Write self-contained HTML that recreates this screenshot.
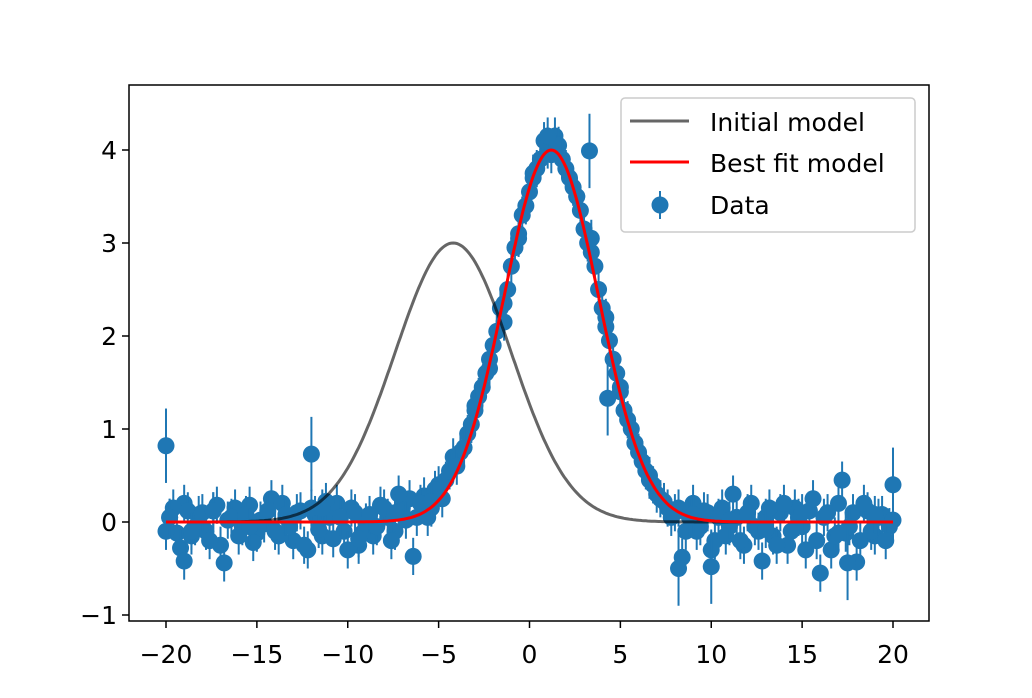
<!DOCTYPE html>
<html><head><meta charset="utf-8"><style>
body{margin:0;background:#fff;}
svg{display:block;font-family:"DejaVu Sans","Liberation Sans",sans-serif;}
</style></head><body>
<svg id="chart" width="1032" height="698">
<rect width="1032" height="698" fill="#fff"/>
<g id="plot"></g>
</svg>
<script>
const xTicks=[-20,-15,-10,-5,0,5,10,15,20];
const yTicks=[-1,0,1,2,3,4];
const dataX=[-20.0,-19.6,-19.2,-18.8,-18.4,-18.0,-17.6,-17.2,-16.8,-16.4,-16.0,-15.6,-15.2,-14.8,-14.4,-14.0,-13.6,-13.2,-12.8,-12.4,-12.0,-11.6,-11.2,-10.8,-10.4,-10.0,-9.6,-9.2,-8.8,-8.4,-8.0,-7.6,-7.2,-6.8,-6.4,-6.0,-5.6,-5.2,-4.8,-4.4,-4.0,-3.6,-3.2,-2.8,-2.4,-2.0,-1.6,-1.2,-0.8,-0.4,0.0,0.4,0.8,1.2,1.6,2.0,2.4,2.8,3.2,3.6,4.0,4.4,4.8,5.2,5.6,6.0,6.4,6.8,7.2,7.6,8.0,8.4,8.8,9.2,9.6,10.0,10.4,10.8,11.2,11.6,12.0,12.4,12.8,13.2,13.6,14.0,14.4,14.8,15.2,15.6,16.0,16.4,16.8,17.2,17.6,18.0,18.4,18.8,19.2,19.6,20.0,
-20,-12,3.3,4.3,8.2,10,17.5,20,-19,-19.8,-18.6,-17.4,-15.4,-13.4,-11.4,-9.4,-7.4,-5.4,-3.0,-2.2,-1.4,-0.6,0.2,1.0,1.8,2.6,3.4,4.2,5.0,5.8,6.6,9.0,11.0,13.0,15.0,17.0,19.0];
const dataY=[-0.10,0.15,-0.28,0.12,-0.05,0.10,-0.20,0.18,-0.44,0.05,-0.15,0.08,-0.22,0.02,0.12,-0.10,0.20,-0.05,0.10,-0.25,0.15,-0.08,0.22,-0.18,0.05,-0.30,0.10,-0.12,0.08,-0.05,0.15,-0.20,0.30,0.02,-0.37,0.20,0.05,0.35,0.25,0.55,0.60,0.80,1.05,1.35,1.60,1.90,2.30,2.50,2.95,3.30,3.55,3.80,4.10,3.95,4.05,3.80,3.60,3.35,3.00,2.75,2.30,1.95,1.60,1.20,1.00,0.75,0.55,0.40,0.25,0.15,0.10,-0.38,0.05,-0.10,0.12,-0.30,0.05,-0.15,0.30,-0.20,0.10,-0.05,-0.42,0.15,-0.25,0.20,-0.10,0.05,-0.30,0.25,-0.55,0.10,-0.15,0.45,-0.05,-0.43,0.20,-0.10,0.05,-0.20,0.02,
0.82,0.73,3.99,1.33,-0.50,-0.48,-0.44,0.40,-0.42,0.05,-0.10,0.12,-0.05,0.08,0.15,-0.18,0.10,0.22,1.25,1.65,2.15,3.05,3.75,4.15,3.90,3.50,3.05,2.20,1.45,0.85,0.50,0.08,0.02,-0.08,0.10,-0.12,0.08];
const extraX=[-19.8,-19.4,-19.0,-18.6,-18.2,-17.8,-17.4,-17.0,-16.6,-16.2,-15.8,-15.4,-15.0,-14.6,-14.2,-13.8,-13.4,-13.0,-12.6,-12.2,-11.8,-11.4,-11.0,-10.6,-10.2,-9.8,-9.4,-9.0,-8.6,-8.2,-7.8,-7.4,-7.0,-6.6,-6.2,-5.8,-5.4,-5.0,-4.6,-4.2,-3.8,-3.4,-3.0,-2.6,-2.2,-1.8,-1.4,-1.0,-0.6,-0.2,0.2,0.6,1.0,1.4,1.8,2.2,2.6,3.0,3.4,3.8,4.2,4.6,5.0,5.4,5.8,6.2,6.6,7.0,7.4,7.8,8.2,8.6,9.0,9.4,9.8,10.2,10.6,11.0,11.4,11.8,12.2,12.6,13.0,13.4,13.8,14.2,14.6,15.0,15.4,15.8,16.2,16.6,17.0,17.4,17.8,18.2,18.6,19.0,19.4,19.8];
const extraY=[0.05,-0.12,0.20,-0.15,0.08,-0.10,0.12,-0.25,0.02,0.15,-0.05,0.18,-0.12,-0.02,0.25,-0.15,0.05,-0.20,0.12,-0.30,0.08,-0.15,0.05,0.20,-0.10,0.15,-0.25,0.00,-0.15,0.18,0.05,-0.10,0.15,0.25,0.05,0.28,0.15,0.40,0.45,0.70,0.75,0.95,1.20,1.45,1.75,2.05,2.35,2.75,3.10,3.40,3.70,3.90,4.00,4.15,3.90,3.70,3.50,3.15,2.90,2.50,2.10,1.75,1.40,1.10,0.85,0.65,0.45,0.30,0.22,0.05,0.15,-0.10,0.20,-0.05,0.10,-0.20,0.15,-0.05,0.05,-0.25,0.20,-0.10,0.05,-0.15,0.10,-0.25,0.15,-0.05,0.12,-0.20,0.05,-0.30,0.20,-0.12,0.10,-0.20,0.12,-0.15,0.08,-0.05];
const initAmp=3, initMean=-4.2, initSigma=3.2;
const fitAmp=4, fitMean=1.2, fitSigma=2.6;

const L=129,R=929,T=85,B=621;
const X=v=>529.5+v*18.175;
const Y=v=>522-v*93;
const NS="http://www.w3.org/2000/svg";
const g=document.getElementById('plot');
function mk(t,a,p){const e=document.createElementNS(NS,t);for(const k in a)e.setAttribute(k,a[k]);(p||g).appendChild(e);return e;}

function drawPoint(x,y,er){
 const ln=mk('line',{x1:X(x),x2:X(x),y1:Y(y-er),y2:Y(y+er),stroke:'#1f77b4','stroke-width':2});
 
 
 const c=mk('circle',{cx:X(x),cy:Y(y),r:8.5,fill:'#1f77b4'});
 
 
}
extraX.forEach((x,i)=>drawPoint(x,extraY[i],0.2));
dataX.forEach((x,i)=>drawPoint(x,dataY[i],i>=101&&i<109?0.4:0.2));

function curve(a,m,s){let d='';for(let x=-20;x<=20.001;x+=0.1){d+=(d?'L':'M')+X(x).toFixed(1)+','+Y(a*Math.exp(-(x-m)*(x-m)/(2*s*s))).toFixed(1);}return d;}
const ic=mk('path',{d:curve(initAmp,initMean,initSigma),fill:'none',stroke:'#000','stroke-opacity':0.6,'stroke-width':3});


const fc=mk('path',{d:curve(fitAmp,fitMean,fitSigma),fill:'none',stroke:'#ff0000','stroke-width':3});



const fr=mk('rect',{x:L,y:T,width:R-L,height:B-T,fill:'none',stroke:'#000','stroke-width':1.5});


xTicks.forEach(v=>{
 mk('line',{x1:X(v),x2:X(v),y1:B,y2:B+7,stroke:'#000','stroke-width':1.5});
 const t=mk('text',{x:X(v),y:B+42,'text-anchor':'middle','font-size':25});
 t.textContent=v<0?'\u2212'+(-v):v;
 
 
});
yTicks.forEach(v=>{
 mk('line',{x1:L-7,x2:L,y1:Y(v),y2:Y(v),stroke:'#000','stroke-width':1.5});
 const t=mk('text',{x:L-12,y:Y(v)+9,'text-anchor':'end','font-size':25});
 t.textContent=v<0?'\u2212'+(-v):v;
 
 
});
const lg=mk('g',{});


mk('rect',{x:621,y:98,width:294,height:134,rx:4,fill:'#fff','fill-opacity':0.8,stroke:'#ccc','stroke-width':1.5},lg);
mk('line',{x1:630,x2:689,y1:121,y2:121,stroke:'#000','stroke-opacity':0.6,'stroke-width':3},lg);
mk('line',{x1:630,x2:689,y1:162,y2:162,stroke:'#f00','stroke-width':3},lg);
mk('line',{x1:660,x2:660,y1:191,y2:219,stroke:'#1f77b4','stroke-width':2},lg);
mk('circle',{cx:660,cy:205,r:8.5,fill:'#1f77b4'},lg);
[['Initial model',131],['Best fit model',172],['Data',214]].forEach(([s,y])=>{
 const t=mk('text',{x:710,y:y,'font-size':25},lg);t.textContent=s;
 
 
});
</script>
</body></html>
